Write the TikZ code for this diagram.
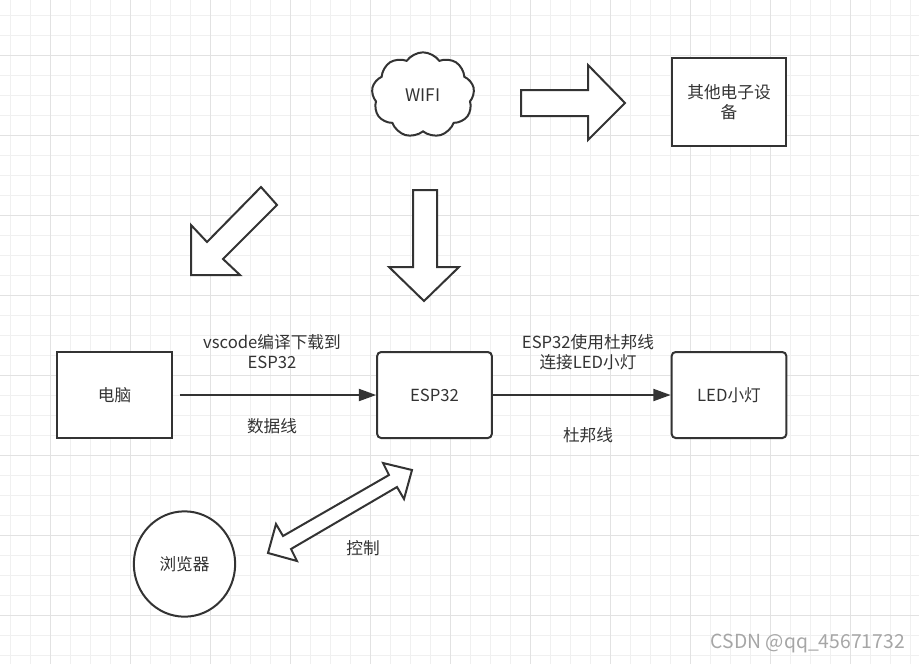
\documentclass[tikz,border=0pt]{standalone}
\usepackage{fontspec}
\setmainfont{Noto Sans CJK SC}
\usepackage{xcolor}
\usepackage{tikz}
\usetikzlibrary{shapes.geometric,shapes.symbols,arrows.meta}

\definecolor{lineC}{HTML}{333333}
\definecolor{gridMinor}{HTML}{F0F0F0}
\definecolor{gridMajor}{HTML}{E2E2E2}

\tikzset{
  txt/.style={text=lineC, font=\fontsize{12.5}{15}\selectfont, align=center, inner sep=0pt},
  box/.style={txt, draw=lineC, line width=1.5pt, fill=white, minimum width=86pt, minimum height=64.5pt},
  roundbox/.style={box, rounded corners=3pt},
  wifiCloud/.style={txt, cloud, cloud puffs=9, cloud puff arc=110, aspect=1.2, draw=lineC, line width=1.5pt, fill=white, minimum width=77pt, minimum height=64pt},
  browser/.style={txt, ellipse, draw=lineC, line width=1.5pt, fill=white, minimum width=76pt, minimum height=79pt},
  blockarrow/.style={draw=lineC, line width=1.5pt, fill=white},
  conn/.style={draw=lineC, line width=1.5pt, -{Triangle[length=13pt,width=9pt]}},
}

\begin{document}
\begin{tikzpicture}[x=0.75pt, y=-0.75pt]
    \useasboundingbox (0,0) rectangle (919,664);
    \fill[white] (0,0) rectangle (919,664);

    % Grid paper
    \foreach \x in {10,30,...,910}
        \draw[gridMinor, line width=0.75pt] (\x,0) -- (\x,664);
    \foreach \y in {15,35,...,655}
        \draw[gridMinor, line width=0.75pt] (0,\y) -- (919,\y);
    \foreach \x in {50,130,...,850}
        \draw[gridMajor, line width=0.75pt] (\x,0) -- (\x,664);
    \foreach \y in {55,135,...,615}
        \draw[gridMajor, line width=0.75pt] (0,\y) -- (919,\y);

    % WIFI and other devices
    \node[wifiCloud] (wifi) at (423,95) {\fontsize{13}{15}\selectfont WIFI};
    \node[box, minimum height=66pt] (other) at (729,102) {其他电子设\\备};

    % Block arrows out of the WIFI
    \draw[blockarrow] (521,90) -- (588,90) -- (588,65) -- (625,103) -- (588,140) -- (588,116) -- (521,116) -- cycle;
    \draw[blockarrow] (191,275) -- (191,225) -- (207,242) -- (261,187) -- (277,205) -- (223,259) -- (240,275) -- cycle;
    \draw[blockarrow] (413,190) -- (437,190) -- (437,267) -- (459,267) -- (424,301) -- (389,267) -- (413,267) -- cycle;

    % Main row
    \node[box] (pc) at (114.5,395) {电脑};
    \node[roundbox] (esp) at (434.5,395) {ESP32};
    \node[roundbox] (led) at (729,395) {LED小灯};

    \draw[conn, shorten <=5pt] (pc) -- (esp);
    \draw[conn] (esp) -- (led);

    % Labels on the connectors
    \node[txt] (lblcode) at (272,352) {vscode编译下载到\\ESP32};
    \node[txt] (lbldata) at (272,426) {数据线};
    \node[txt] (lblwire) at (588,352) {ESP32使用杜邦线\\连接LED小灯};
    \node[txt] (lbldupont) at (588,435) {杜邦线};

    % Browser control
    \node[browser] (web) at (184.5,564) {浏览器};
    \draw[blockarrow] (412,470) -- (404,499) -- (397,487) -- (291,549) -- (297,561) -- (268,553) -- (276,524) -- (283,536) -- (389,475) -- (383,463) -- cycle;
    \node[txt] (lblctrl) at (363,548) {控制};

    % Watermark
    \node[txt, text=gray!70, font=\fontsize{14.5}{16}\selectfont, anchor=east] (mark) at (905,643) {CSDN @qq\_45671732};
\end{tikzpicture}
\end{document}
